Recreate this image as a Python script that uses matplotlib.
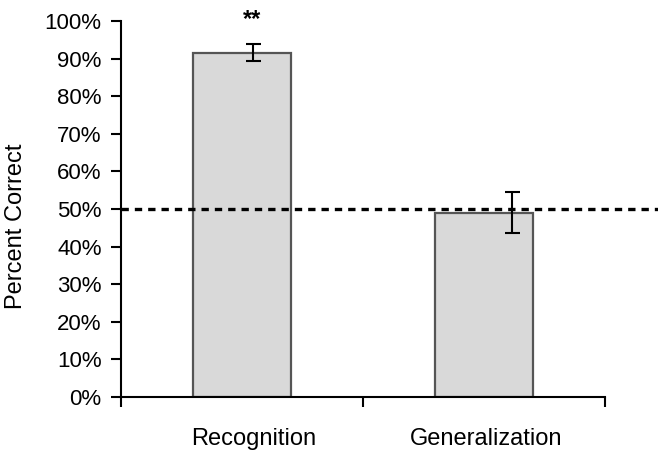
import numpy as np
import matplotlib.pyplot as plt

plt.rcParams['font.family'] = ['Liberation Sans', 'DejaVu Sans']

'''
DATI
'''
categories = ['Recognition', 'Generalization']
percent_correct = [91.6, 49.0]
sem = [2.2, 5.4]
chance = 50
stars = ['**', '']

'''
GRAFICO
'''
x = np.arange(len(categories))
fig = plt.figure(figsize=(6.62, 4.58), dpi=100)
ax = fig.add_axes([121/662, 1 - 397/458, (658 - 121)/662, (397 - 21)/458])

ax.bar(x, percent_correct, width=0.405, color='#d9d9d9', edgecolor='#555555',
       linewidth=1.6, zorder=2)
# error bars sit a little right of the bar centres in the original
err_x = x + np.array([0.045, 0.116])
ax.errorbar(err_x, percent_correct, yerr=sem, fmt='none', ecolor='black',
            elinewidth=1.5, capsize=5.4, capthick=1.5, zorder=3)
ax.axhline(chance, color='black', linewidth=2.4, dashes=(2.2, 1.8), zorder=4)

for xi, s in zip(x, stars):
    if s:
        ax.text(xi + 0.04, 100.5, s, ha='center', va='center', fontsize=17,
                fontweight='bold', clip_on=False)

ax.set_xlim(-0.5, 1.72)
ax.set_ylim(0, 100)
ax.set_yticks(np.arange(0, 101, 10))
ax.set_yticklabels([f'{v}%' for v in range(0, 101, 10)])
ax.set_xticks(x + np.array([0.05, 0.01]))
ax.set_xticklabels(categories)
ax.set_xticks([-0.5, 0.5, 1.5], minor=True)
ax.tick_params(axis='x', which='major', length=0, pad=22, labelsize=17)
ax.tick_params(axis='x', which='minor', length=7, width=1.5, direction='out')
ax.tick_params(axis='y', length=7, width=1.5, pad=7, labelsize=16)
ax.set_ylabel('Percent Correct', fontsize=17)
ax.yaxis.set_label_coords(-0.175, 0.455)

for side in ['top', 'right']:
    ax.spines[side].set_visible(False)
for side in ['left', 'bottom']:
    ax.spines[side].set_linewidth(1.5)
ax.spines['bottom'].set_bounds(-0.5, 1.5)

plt.savefig('out.png', dpi=100)
